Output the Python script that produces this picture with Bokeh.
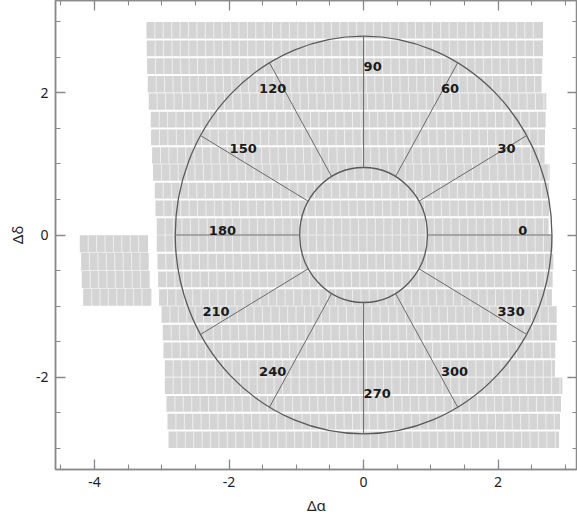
import numpy as np
from bokeh.plotting import figure
from bokeh.models import LinearAxis, FixedTicker, CustomJSTickFormatter, ColumnDataSource
from bokeh.embed import file_html
from bokeh.resources import INLINE
from bokeh.core.properties import value

# ---------------- data ----------------
# main survey field: 24 rows (tops in deg), grouped by 4 into 1-deg stripes
row_top = [3.0, 2.75, 2.5, 2.25, 2.0, 1.75, 1.5, 1.25, 1.0, 0.75, 0.5, 0.25,
           0.0, -0.25, -0.5, -0.75, -1.0, -1.25, -1.5, -1.75, -2.0, -2.25, -2.5, -2.75]
row_group = [1, 1, 1, 1, 2, 2, 2, 2, 3, 3, 3, 3, 4, 4, 4, 4, 5, 5, 5, 5, 6, 6, 6, 6]
row_left = [-3.228, -3.224, -3.219, -3.209, -3.194, -3.164, -3.159, -3.144,
            -3.130, -3.104, -3.094, -3.075, -3.075, -3.064, -3.055, -3.040,
            -3.004, -2.985, -2.975, -2.955, -2.955, -2.930, -2.915, -2.900]
row_right = [2.667, 2.667, 2.657, 2.646, 2.716, 2.706, 2.697, 2.691,
             2.766, 2.757, 2.757, 2.750, 2.810, 2.820, 2.810, 2.800,
             2.870, 2.870, 2.850, 2.845, 2.955, 2.935, 2.920, 2.906]
# small detached block to the east
blk_top = [0.0, -0.25, -0.5, -0.75]
blk_left = [-4.219, -4.199, -4.190, -4.169]
blk_right = [-3.204, -3.194, -3.179, -3.154]
row_height = 0.25
tile_size = 0.125

# position-angle wheel
r_outer = 2.8
r_inner = 0.95
r_label = 2.3
angles = [0, 30, 60, 90, 120, 150, 180, 210, 240, 270, 300, 330]
angle_labels = ["0", "30", "60", "90", "120", "150", "180", "210", "240", "270", "300", "330"]
label_align = ["left", "left", "left", "left", "right", "left", "left", "right", "right", "left", "left", "left"]

x_major = [-4, -2, 0, 2]
y_major = [-2, 0, 2]

# ---------------- figure ----------------
p = figure(width=577, height=517, x_range=(-4.58, 3.18), y_range=(-3.3, 3.3),
           output_backend="svg", toolbar_location=None,
           min_border_left=55, min_border_right=0, min_border_top=0, min_border_bottom=0,
           background_fill_color="white", border_fill_color="white")
p.grid.visible = False
p.outline_line_color = "#8a8a8a"
p.outline_line_width = 1.5

FILL = "#d4d4d4"
IN_GAP = 0.014
GRP_GAP = 0.004


def build_rows(tops, lefts, rights, groups):
    L, R, T, B = [], [], [], []
    sx0, sx1, sy0, sy1 = [], [], [], []
    n = len(tops)
    for i in range(n):
        first = i == 0 or groups[i] != groups[i - 1]
        last = i == n - 1 or groups[i] != groups[i + 1]
        top = tops[i] - (GRP_GAP if first else IN_GAP)
        bot = tops[i] - row_height + (GRP_GAP if last else IN_GAP)
        L.append(lefts[i]); R.append(rights[i]); T.append(top); B.append(bot)
        k = 1
        while lefts[i] + k * tile_size < rights[i] - 0.02:
            xx = lefts[i] + k * tile_size
            sx0.append(xx); sx1.append(xx); sy0.append(bot); sy1.append(top)
            k += 1
    return (dict(left=L, right=R, top=T, bottom=B),
            dict(x0=sx0, x1=sx1, y0=sy0, y1=sy1))


main_rows, main_sep = build_rows(row_top, row_left, row_right, row_group)
blk_rows, blk_sep = build_rows(blk_top, blk_left, blk_right, [1, 2, 3, 4])

for rows, sep in ((main_rows, main_sep), (blk_rows, blk_sep)):
    p.quad(source=ColumnDataSource(rows), left="left", right="right", top="top", bottom="bottom",
           fill_color=FILL, line_color=None)
    p.segment(source=ColumnDataSource(sep), x0="x0", y0="y0", x1="x1", y1="y1",
              line_color="white", line_alpha=0.6, line_width=1)

# wheel
p.ellipse(x=[0, 0], y=[0, 0], width=[2 * r_outer, 2 * r_inner], height=[2 * r_outer, 2 * r_inner],
          fill_color=None, line_color="#5a5a5a", line_width=1.3)
th = np.radians(angles)
p.segment(x0=r_inner * np.cos(th), y0=r_inner * np.sin(th),
          x1=r_outer * np.cos(th), y1=r_outer * np.sin(th),
          line_color="#6a6a6a", line_width=1.0)

lab_src = ColumnDataSource(dict(x=r_label * np.cos(th), y=r_label * np.sin(th),
                                text=angle_labels, align=label_align))
p.text(source=lab_src, x="x", y="y", text="text", text_align="align",
       text_baseline="middle", y_offset=-5,
       text_font=value("DejaVu Sans"), text_font_style="bold",
       text_font_size="13px", text_color="#1a1a1a")

# axes
AX_COL = "#8a8a8a"
minor_x = list(np.arange(-4.5, 3.01, 0.5))
minor_y = list(np.arange(-3.0, 3.01, 0.5))


def style_axis(ax):
    ax.axis_line_color = AX_COL
    ax.axis_line_width = 1.5
    ax.major_tick_line_color = AX_COL
    ax.minor_tick_line_color = AX_COL
    ax.major_tick_line_width = 1.3
    ax.minor_tick_line_width = 1.1
    ax.major_tick_in = 10
    ax.major_tick_out = 0
    ax.minor_tick_in = 5
    ax.minor_tick_out = 0
    ax.major_label_text_font = "Noto Sans"
    ax.major_label_text_font_size = "14px"
    ax.major_label_text_color = "#222222"
    ax.axis_label_text_font = "Noto Sans"
    ax.axis_label_text_font_size = "15px"
    ax.axis_label_text_font_style = "normal"
    ax.axis_label_text_color = "#222222"


plain = CustomJSTickFormatter(code="return tick.toString()")
p.xaxis.ticker = FixedTicker(ticks=x_major, minor_ticks=minor_x)
p.yaxis.ticker = FixedTicker(ticks=y_major, minor_ticks=minor_y)
p.xaxis.formatter = plain
p.yaxis.formatter = plain
p.xaxis.axis_label = "Δα"
p.yaxis.axis_label = "Δδ"
p.xaxis.major_label_standoff = 7
p.yaxis.major_label_standoff = 7
p.xaxis.axis_label_standoff = 5
p.yaxis.axis_label_standoff = 6
style_axis(p.xaxis[0])
style_axis(p.yaxis[0])

blank = CustomJSTickFormatter(code="return ''")
top_ax = LinearAxis(ticker=FixedTicker(ticks=x_major, minor_ticks=minor_x), formatter=blank,
                    major_label_standoff=0)
right_ax = LinearAxis(ticker=FixedTicker(ticks=y_major, minor_ticks=minor_y), formatter=blank,
                      major_label_standoff=0)
style_axis(top_ax)
style_axis(right_ax)
top_ax.major_label_text_font_size = "0px"
right_ax.major_label_text_font_size = "0px"
p.add_layout(top_ax, "above")
p.add_layout(right_ax, "right")

open("out.html", "w").write(file_html(p, INLINE))
